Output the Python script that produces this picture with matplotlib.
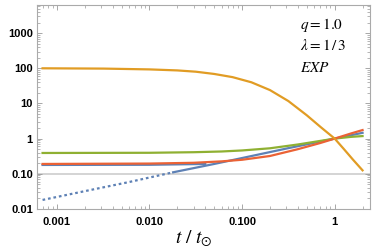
import numpy as np
import matplotlib
matplotlib.use("Agg")
import matplotlib.pyplot as plt
from matplotlib.ticker import FixedLocator, LogLocator, NullFormatter

plt.rcParams['mathtext.fontset'] = 'stix'

# ---- data ----------------------------------------------------------------
t_orange = [0.0007, 0.0032, 0.01, 0.02, 0.0316, 0.05, 0.079, 0.126, 0.2,
            0.316, 0.5, 0.71, 1.0, 1.26, 1.58, 2.0]
y_orange = [100, 98, 93, 87, 80, 69, 56, 40, 24,
            11.7, 4.6, 2.1, 1.0, 0.5, 0.25, 0.125]

t_green = [0.0007, 0.01, 0.03, 0.06, 0.1, 0.2, 0.4, 0.7, 1.0, 1.5, 2.0]
y_green = [0.39, 0.395, 0.41, 0.43, 0.46, 0.53, 0.68, 0.86, 1.0, 1.12, 1.18]

t_red = [0.0007, 0.01, 0.03, 0.06, 0.1, 0.2, 0.4, 0.7, 1.0, 1.5, 2.0]
y_red = [0.19, 0.195, 0.205, 0.225, 0.25, 0.32, 0.5, 0.75, 1.0, 1.4, 1.75]

# blue: flat part hidden under red, and a power law (dotted at small t)
t_blue_flat = [0.0007, 0.01, 0.04]
y_blue_flat = [0.178, 0.18, 0.19]
t_blue = [0.018, 0.05, 0.1, 0.3, 1.0, 2.0]
y_blue = [0.11, 0.19, 0.28, 0.52, 1.0, 1.46]
t_blue_dot = [0.0007, 0.002, 0.006, 0.018]
y_blue_dot = [0.018, 0.032, 0.058, 0.11]

xticks = [0.001, 0.01, 0.1, 1]
xtick_labels = ['0.001', '0.010', '0.100', '1']
yticks = [0.01, 0.1, 1, 10, 100, 1000]
ytick_labels = ['0.01', '0.10', '1', '10', '100', '1000']

c_blue, c_orange, c_green, c_red = '#5E81B5', '#E19C24', '#8FB032', '#EB6235'

# ---- figure ---------------------------------------------------------------
fig = plt.figure(figsize=(3.74, 2.52), dpi=100)
ax = fig.add_axes([0.099, 0.171, 0.890, 0.809])
ax.set_xscale('log')
ax.set_yscale('log')
ax.set_xlim(0.00061, 2.4)
ax.set_ylim(0.01, 6300)

ax.axhline(0.1, color='#d4d4d4', lw=1.4, zorder=1)

lw = 1.6
ax.plot(t_blue_flat, y_blue_flat, color=c_blue, lw=lw, zorder=2)
ax.plot(t_blue_dot, y_blue_dot, color=c_blue, lw=lw, ls=(0, (1.2, 1.3)), zorder=2)
ax.plot(t_blue, y_blue, color=c_blue, lw=lw, zorder=3)
ax.plot(t_green, y_green, color=c_green, lw=lw, zorder=3)
ax.plot(t_red, y_red, color=c_red, lw=lw, zorder=3)
ax.plot(t_orange, y_orange, color=c_orange, lw=lw, zorder=4)

# ticks
ax.xaxis.set_major_locator(FixedLocator(xticks))
ax.set_xticklabels(xtick_labels)
ax.yaxis.set_major_locator(FixedLocator(yticks))
ax.set_yticklabels(ytick_labels)
ax.xaxis.set_minor_locator(LogLocator(base=10, subs=np.arange(2, 10)))
ax.yaxis.set_minor_locator(LogLocator(base=10, subs=np.arange(2, 10)))
ax.xaxis.set_minor_formatter(NullFormatter())
ax.yaxis.set_minor_formatter(NullFormatter())
ax.tick_params(which='both', direction='in', top=True, right=True,
               color='#999999')
ax.tick_params(which='major', length=3.5, width=0.6, labelsize=8)
ax.tick_params(axis='x', which='major', pad=6)
ax.tick_params(axis='y', which='major', pad=3)
ax.tick_params(which='minor', length=2, width=0.5)
for lab in ax.get_xticklabels() + ax.get_yticklabels():
    lab.set_fontweight('bold')
    lab.set_family('Liberation Sans')
for s in ax.spines.values():
    s.set_color('#aaaaaa')
    s.set_linewidth(0.8)

ax.set_xlabel(r'$t\ /\ t_{\odot}$', fontsize=14)
ax.xaxis.set_label_coords(0.47, -0.095)

ax.text(0.79, 0.90, r'$q = 1.0$', transform=ax.transAxes, fontsize=11, va='center')
ax.text(0.79, 0.80, r'$\lambda = 1\,/\,3$', transform=ax.transAxes, fontsize=11, va='center')
ax.text(0.79, 0.695, r'$EXP$', transform=ax.transAxes, fontsize=11, va='center')

fig.savefig('out.png', dpi=100)
